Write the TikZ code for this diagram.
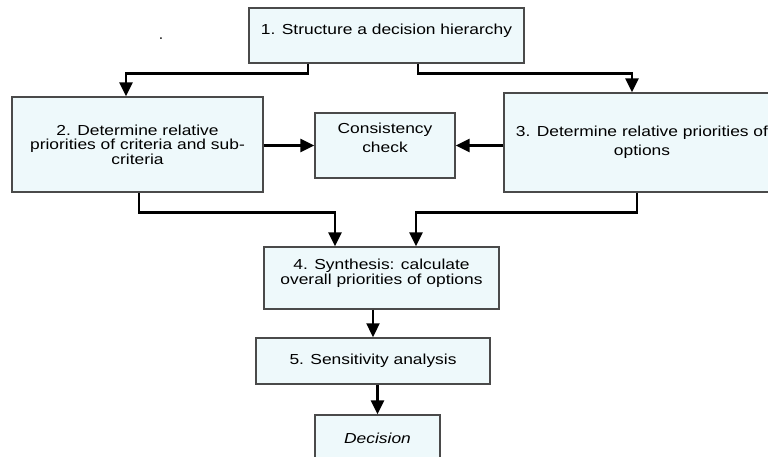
\documentclass[tikz,border=0pt]{standalone}
\usepackage{fontspec}
\setmainfont[FakeStretch=1.2]{Liberation Sans}
\usetikzlibrary{arrows.meta}

\definecolor{boxfill}{HTML}{EEF9FB}
\definecolor{boxline}{HTML}{4A4A4A}

\begin{document}
\begin{tikzpicture}[x=1pt, y=-1pt,
		stepbox/.style={draw=boxline, line width=1.4pt, fill=boxfill, align=center, font=\fontsize{14.5}{14.5}\selectfont},
		lift/.style={text depth=#1},
		arr/.style={line width=2.6pt, -{Triangle[width=13pt, length=14pt]}}]
		\useasboundingbox (0, 0) rectangle (768, 456);

		\node[font=\fontsize{16}{16}\selectfont, text=darkgray] at (161, 39) (mark) {.};

		\node[stepbox, minimum width=275, minimum height=55, lift=12.5pt] at (386.5, 35.5) (step1) {1. Structure a decision hierarchy};
		\node[stepbox, minimum width=251, minimum height=95] at (137.5, 144.5) (step2) {2. Determine relative\\priorities of criteria and sub-\\criteria};
		\node[stepbox, minimum width=140, minimum height=65, lift=15pt, font=\fontsize{14.5}{19}\selectfont] at (385, 145.5) (check) {Consistency\\check};
		\node[stepbox, minimum width=276, minimum height=99, font=\fontsize{14.5}{19}\selectfont] at (642, 142.5) (step3) {3. Determine relative priorities of\\options};
		\node[stepbox, minimum width=235, minimum height=62, lift=12.5pt, font=\fontsize{14.5}{13}\selectfont] at (381.5, 278) (step4) {4. Synthesis: calculate\\overall priorities of options};
		\node[stepbox, minimum width=234, minimum height=46] at (373, 361) (step5) {5. Sensitivity analysis};
		\node[stepbox, minimum width=125, minimum height=46] at (377.5, 438) (decision) {\itshape Decision};

		% hierarchy splits into the two priority steps
		\draw[arr] ([xshift=-78.5pt]step1.south) -- ++(0, 10) -| ([xshift=-11.5pt]step2.north);
		\draw[arr] ([xshift=31.5pt]step1.south) -- ++(0, 10) -| ([xshift=-10pt]step3.north);

		\path
		(step2.east |- check.west) edge[arr] (check.west)
		(step3.west |- check.east) edge[arr] (check.east);

		% both priority steps feed the synthesis
		\draw[arr] ([xshift=1.5pt]step2.south) -- ++(0, 20) -| ([xshift=-46.5pt]step4.north);
		\draw[arr] ([xshift=-5pt]step3.south) -- ++(0, 20) -| ([xshift=34.5pt]step4.north);

		\path
		(step4.south -| step5.north) edge[arr, line width=2pt] (step5.north)
		(step5.south -| decision.north) edge[arr] (decision.north);
	\end{tikzpicture}
\end{document}
